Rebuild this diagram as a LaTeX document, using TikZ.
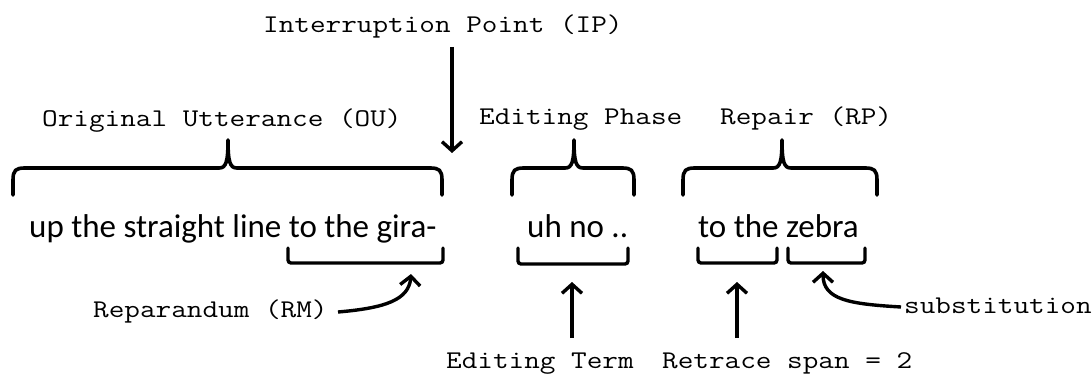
\documentclass[tikz,border=0pt]{standalone}
\usepackage{fontspec}
\setmainfont{Carlito}
\newfontfamily\labfont[FakeStretch=1.19]{Latin Modern Mono}
\usetikzlibrary{arrows.meta}
\tikzset{
  lab/.style={font=\labfont\fontsize{25.5}{28}\selectfont, inner sep=0pt, anchor=base west},
  sent/.style={font=\fontsize{33}{36}\selectfont, inner sep=0pt, anchor=base west},
  brace/.style={line width=3.6pt, line cap=round, line join=round},
  bracket/.style={line width=3.4pt, rounded corners=3pt, line cap=round},
  arr/.style={line width=3.4pt, -{Straight Barb[length=9pt,width=20pt]}},
}
\newcommand{\topbrace}[3]{% left, peak, right
  \draw[brace] (#1,195) -- (#1,180) .. controls (#1,170) and (#1+3,168) .. (#1+12,168)
    -- (#2-9,168) .. controls (#2-2,168) and (#2,162) .. (#2,140)
    .. controls (#2,162) and (#2+2,168) .. (#2+9,168)
    -- (#3-12,168) .. controls (#3-3,168) and (#3,170) .. (#3,180) -- (#3,195);}
\begin{document}
\begin{tikzpicture}[x=1pt,y=-1pt]
\useasboundingbox (0,0) rectangle (1092,374);
% labels
\node[lab] (ip) at (263,33) {Interruption Point (IP)};
\node[lab] (ou) at (42,127) {Original Utterance (OU)};
\node[lab] (ep) at (479,125) {Editing Phase};
\node[lab] (rp) at (720,125) {Repair (RP)};
% sentence
\node[sent] (s1) at (29,237) {up the straight line to the gira-};
\node[sent] (s2) at (527,237) {uh no ..};
\node[sent] (s3) at (698,237) {to the zebra};
% top braces
\topbrace{13}{228}{442}
\topbrace{512}{574}{634}
\topbrace{683}{782}{877}
% bottom brackets
\draw[bracket] (288,248) -- (288,263) -- (443,263) -- (443,248);
\draw[bracket] (518,248) -- (518,264) -- (628,264) -- (628,248);
\draw[bracket] (698,248) -- (698,263) -- (777,263) -- (777,248);
\draw[bracket] (788,248) -- (788,263) -- (865,263) -- (865,248);
% bottom labels
\node[lab] (rm) at (93,317) {Reparandum (RM)};
\node[lab] (sub) at (904,313) {substitution};
\node[lab] (et) at (446,368) {Editing Term};
\node[lab] (rs) at (662,368) {Retrace span = 2};
% coordinates
\coordinate (iptip) at (452,153);
\coordinate (ipstart) at (452,47);
\coordinate (rmtip) at (411,274);
\coordinate (rmstart) at (338,312);
\coordinate (subtip) at (823,271);
\coordinate (substart) at (901,307);
\coordinate (ettip) at (572,282);
\coordinate (etstart) at (572,338);
\coordinate (rstip) at (737,282);
\coordinate (rsstart) at (737,338);
% arrows
\draw[arr] (ipstart) -- (iptip);
\draw[arr] (etstart) -- (ettip);
\draw[arr] (rsstart) -- (rstip);
\draw[arr] (rmstart) .. controls (385,308) and (409,300) .. (rmtip);
\draw[arr] (substart) .. controls (850,304) and (823,300) .. (subtip);
\end{tikzpicture}
\end{document}
